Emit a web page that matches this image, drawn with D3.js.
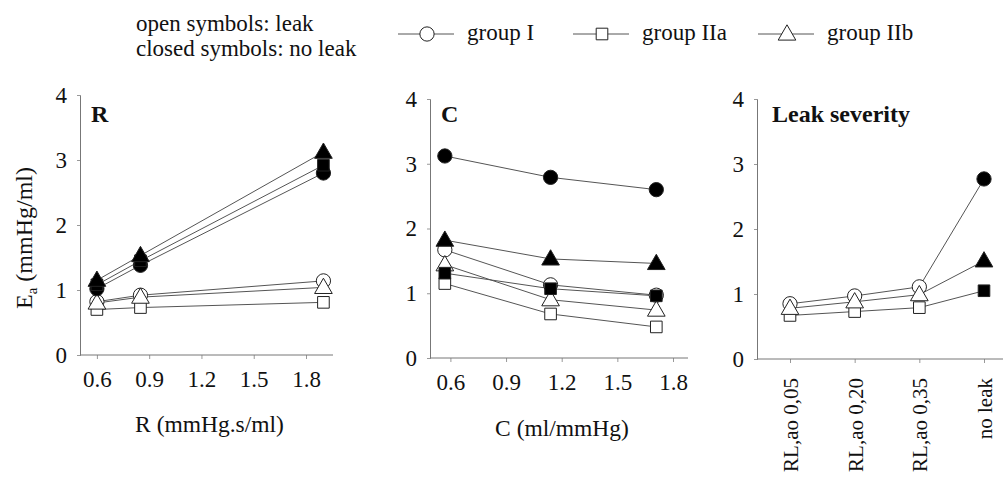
<!DOCTYPE html>
<html>
<head>
<meta charset="utf-8">
<script src="https://cdn.jsdelivr.net/npm/d3@7"></script>
<style>
  body { margin: 0; background: #fff; }
</style>
</head>
<body>
<div id="chart"></div>
<script>
// x values
const rValues = [0.6, 0.85, 1.9];
const cValues = [0.57, 1.14, 1.71];
const leakCats = ["RL,ao 0,05", "RL,ao 0,20", "RL,ao 0,35", "no leak"];
const groups = ["group I", "group IIa", "group IIb"];
const xTicks = [0.6, 0.9, 1.2, 1.5, 1.8];
const yTicks = [0, 1, 2, 3, 4];

// R panel, Ea (mmHg/ml)
const rLeakI = [0.82, 0.92, 1.14];
const rLeakIIa = [0.70, 0.73, 0.81];
const rLeakIIb = [0.80, 0.89, 1.04];
const rNoLeakI = [1.02, 1.38, 2.80];
const rNoLeakIIa = [1.08, 1.45, 2.92];
const rNoLeakIIb = [1.15, 1.53, 3.12];

// C panel
const cLeakI = [1.67, 1.13, 0.97];
const cLeakIIa = [1.15, 0.68, 0.48];
const cLeakIIb = [1.44, 0.90, 0.74];
const cNoLeakI = [3.12, 2.79, 2.60];
const cNoLeakIIa = [1.31, 1.07, 0.96];
const cNoLeakIIb = [1.82, 1.53, 1.46];

// leak severity panel (last value = no leak)
const sevI = [0.85, 0.97, 1.11, 2.77];
const sevIIa = [0.67, 0.73, 0.79, 1.05];
const sevIIb = [0.78, 0.88, 0.99, 1.51];

const FONT = "'Liberation Serif', 'Times New Roman', Tinos, serif";
const symbolTypes = [d3.symbolCircle, d3.symbolSquare, d3.symbolTriangle];
const symbolSizes = [160, 135, 135];
const lineColor = "#555";

const svg = d3.select("#chart").append("svg")
    .attr("width", 1005)
    .attr("height", 480)
    .attr("font-family", FONT);

function marker(g, x, y, gi, open) {
    g.append("path")
        .attr("d", d3.symbol().type(symbolTypes[gi]).size(symbolSizes[gi])())
        .attr("transform", "translate(" + x + "," + (gi == 2 ? y + 1 : y) + ")")
        .attr("fill", open ? "#fff" : "#000")
        .attr("stroke", "#222")
        .attr("stroke-width", 1);
}

function styleText(sel, size) {
    sel.attr("font-family", FONT).attr("font-size", size).attr("fill", "#111");
}

function yAxis(g, yScale, x0) {
    g.append("g")
        .attr("transform", "translate(" + x0 + ",0)")
        .call(d3.axisLeft(yScale).tickValues(yTicks).tickSize(3).tickPadding(10).tickFormat(d3.format("d")))
        .attr("font-family", FONT)
        .call(a => a.select(".domain").attr("stroke", "#777"))
        .call(a => a.selectAll(".tick line").attr("stroke", "#999"))
        .call(a => styleText(a.selectAll("text"), 23));
}

function numericPanel(xScale, yScale, xAxisEnd, leakSeries, noLeakSeries, xVals, title, xTitle, xTitleY) {
    const g = svg.append("g");
    const x0 = xScale.range()[0];
    const y0 = yScale(0);

    g.append("g")
        .attr("transform", "translate(0," + y0 + ")")
        .call(d3.axisBottom(xScale).tickValues(xTicks).tickSize(4).tickPadding(12).tickFormat(d3.format(".1f")))
        .attr("font-family", FONT)
        .call(a => a.select(".domain").remove())
        .call(a => a.selectAll(".tick line").attr("stroke", "#999"))
        .call(a => styleText(a.selectAll("text"), 23));
    g.append("line")
        .attr("x1", x0).attr("x2", xAxisEnd)
        .attr("y1", y0).attr("y2", y0)
        .attr("stroke", "#777");
    yAxis(g, yScale, x0);

    const line = d3.line()
        .x((d, i) => xScale(xVals[i]))
        .y(d => yScale(d));

    leakSeries.concat(noLeakSeries).forEach(s => {
        g.append("path").attr("d", line(s)).attr("fill", "none")
            .attr("stroke", lineColor).attr("stroke-width", 1);
    });
    leakSeries.forEach((s, gi) => s.forEach((v, i) => marker(g, xScale(xVals[i]), yScale(v), gi, true)));
    noLeakSeries.forEach((s, gi) => s.forEach((v, i) => marker(g, xScale(xVals[i]), yScale(v), gi, false)));

    g.append("text")
        .attr("x", x0 + 11).attr("y", 122)
        .attr("font-weight", "bold")
        .call(styleText, 24)
        .text(title);
    g.append("text")
        .attr("x", (x0 + xAxisEnd) / 2 + 3).attr("y", xTitleY)
        .attr("text-anchor", "middle")
        .call(styleText, 23.5)
        .text(xTitle);
}

// panel R
const xR = d3.scaleLinear().domain([0.503, 1.8]).range([80, 306]);
const yR = d3.scaleLinear().domain([0, 4]).range([355, 95]);
numericPanel(xR, yR, 333,
    [rLeakI, rLeakIIa, rLeakIIb], [rNoLeakI, rNoLeakIIa, rNoLeakIIb],
    rValues, "R", "R (mmHg.s/ml)", 432);

// panel C
const xC = d3.scaleLinear().domain([0.49, 1.8]).range([430, 673]);
const yC = d3.scaleLinear().domain([0, 4]).range([358, 99]);
numericPanel(xC, yC, 688,
    [cLeakI, cLeakIIa, cLeakIIb], [cNoLeakI, cNoLeakIIa, cNoLeakIIb],
    cValues, "C", "C (ml/mmHg)", 436);

// y axis title
const yTitle = svg.append("text")
    .attr("transform", "translate(32,238) rotate(-90)")
    .attr("text-anchor", "middle")
    .call(styleText, 24);
yTitle.append("tspan").text("E");
yTitle.append("tspan").attr("dy", 5).attr("font-size", 15).text("a");
yTitle.append("tspan").attr("dy", -5).text(" (mmHg/ml)");

// panel Leak severity
const gL = svg.append("g");
const xL = d3.scalePoint().domain(leakCats).range([790, 984]);
const yL = d3.scaleLinear().domain([0, 4]).range([359, 99]);
gL.append("g")
    .attr("transform", "translate(0," + yL(0) + ")")
    .call(d3.axisBottom(xL).tickSize(4).tickPadding(12))
    .attr("font-family", FONT)
    .call(a => a.select(".domain").remove())
    .call(a => a.selectAll(".tick line").attr("stroke", "#999"))
    .call(a => styleText(a.selectAll("text"), 21))
    .call(a => a.selectAll("text")
        .attr("text-anchor", "end")
        .attr("transform", "rotate(-90)")
        .attr("x", -19).attr("y", 0).attr("dy", "0.35em"));
gL.append("line")
    .attr("x1", 757).attr("x2", 1003)
    .attr("y1", yL(0)).attr("y2", yL(0))
    .attr("stroke", "#777");
yAxis(gL, yL, 757);

const sevSeries = [sevI, sevIIa, sevIIb];
const sevLine = d3.line().x((d, i) => xL(leakCats[i])).y(d => yL(d));
sevSeries.forEach(s => {
    gL.append("path").attr("d", sevLine(s)).attr("fill", "none")
        .attr("stroke", lineColor).attr("stroke-width", 1);
});
sevSeries.forEach((s, gi) => s.forEach((v, i) => {
    marker(gL, xL(leakCats[i]), yL(v), gi, i < leakCats.length - 1);
}));
gL.append("text")
    .attr("x", 772).attr("y", 122)
    .attr("font-weight", "bold")
    .call(styleText, 24)
    .text("Leak severity");

// legend
svg.append("text").attr("x", 136).attr("y", 31).call(styleText, 23).text("open symbols: leak");
svg.append("text").attr("x", 136).attr("y", 56).call(styleText, 23).text("closed symbols: no leak");

const legendX = [398, 573, 758];
groups.forEach((name, gi) => {
    const lx = legendX[gi];
    svg.append("line")
        .attr("x1", lx).attr("x2", lx + 56)
        .attr("y1", 34).attr("y2", 34)
        .attr("stroke", lineColor);
    marker(svg, lx + 29, 34, gi, true);
    svg.append("text")
        .attr("x", lx + 69).attr("y", 40)
        .call(styleText, 23)
        .text(name);
});
</script>
</body>
</html>
